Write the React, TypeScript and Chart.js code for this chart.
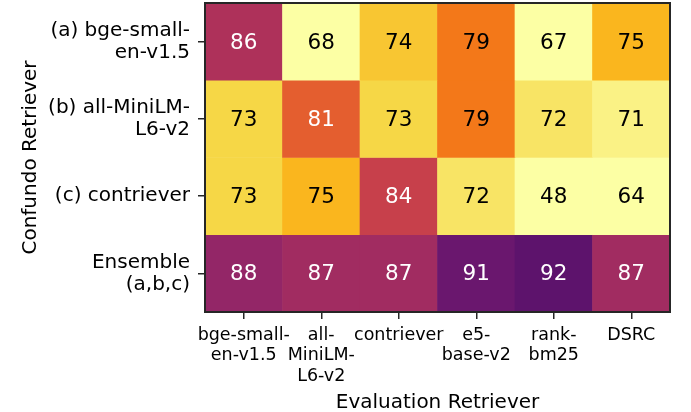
import React, { useEffect, useRef } from "react";
import { Chart, registerables } from "chart.js";

Chart.register(...registerables);

const evalRetrievers: string[][] = [
  ["bge-small-", "en-v1.5"],
  ["all-", "MiniLM-", "L6-v2"],
  ["contriever"],
  ["e5-", "base-v2"],
  ["rank-", "bm25"],
  ["DSRC"],
];
const confundoRetrievers: string[][] = [
  ["(a) bge-small-", "en-v1.5"],
  ["(b) all-MiniLM-", "L6-v2"],
  ["(c) contriever"],
  ["Ensemble", "(a,b,c)"],
];
const rowA = [86, 68, 74, 79, 67, 75];
const rowB = [73, 81, 73, 79, 72, 71];
const rowC = [73, 75, 84, 72, 48, 64];
const rowEnsemble = [88, 87, 87, 91, 92, 87];
const rows = [rowA, rowB, rowC, rowEnsemble];
const xTitle = "Evaluation Retriever";
const yTitle = "Confundo Retriever";
const colorMin = 70;
const colorMax = 100;

const inferno = [
  "#000004", "#160b39", "#420a68", "#6a176e", "#932667", "#bc3754",
  "#dd513a", "#f37819", "#fca50a", "#f6d746", "#fcffa4",
];

function hexToRgb(h: string) {
  return [parseInt(h.slice(1, 3), 16), parseInt(h.slice(3, 5), 16), parseInt(h.slice(5, 7), 16)];
}

function tOf(v: number) {
  return Math.min(1, Math.max(0, (colorMax - v) / (colorMax - colorMin)));
}

function colorOf(v: number) {
  const t = tOf(v);
  const p = t * (inferno.length - 1);
  const i = Math.min(inferno.length - 2, Math.floor(p));
  const f = p - i;
  const a = hexToRgb(inferno[i]);
  const b = hexToRgb(inferno[i + 1]);
  const c = a.map((x, k) => Math.round(x + (b[k] - x) * f));
  return `rgb(${c[0]},${c[1]},${c[2]})`;
}

function textColorOf(v: number) {
  return tOf(v) < 0.67 ? "#ffffff" : "#000000";
}

const FONT = '"DejaVu Sans", sans-serif';

const cellLabels = {
  id: "cellLabels",
  afterDatasetsDraw(chart: any) {
    const ctx = chart.ctx;
    ctx.save();
    ctx.font = `21.5px ${FONT}`;
    ctx.textAlign = "center";
    ctx.textBaseline = "middle";
    chart.data.datasets.forEach((_ds: any, r: number) => {
      const meta = chart.getDatasetMeta(r);
      meta.data.forEach((el: any, c: number) => {
        const v = rows[r][c];
        ctx.fillStyle = textColorOf(v);
        ctx.fillText(String(v), el.x, (el.y + el.base) / 2 + 1.5);
      });
    });
    const a = chart.chartArea;
    ctx.strokeStyle = "#262626";
    ctx.lineWidth = 2;
    ctx.strokeRect(a.left, a.top, a.right - a.left, a.bottom - a.top);
    ctx.restore();
  },
};

export default function App() {
  const ref = useRef<HTMLCanvasElement | null>(null);
  useEffect(() => {
    document.body.style.margin = "0";
    const canvas = ref.current;
    if (!canvas) return;
    const chart = new Chart(canvas, {
      type: "bar",
      data: {
        labels: evalRetrievers as any,
        datasets: rows.map((row, r) => ({
          data: row.map(() => [r, r + 1]) as any,
          backgroundColor: row.map(colorOf),
          borderWidth: 0,
          grouped: false,
          barPercentage: 1,
          categoryPercentage: 1,
        })),
      },
      options: {
        animation: false,
        responsive: false,
        devicePixelRatio: 1,
        layout: { padding: { left: 0, top: 3, right: 21, bottom: 0 } },
        plugins: { legend: { display: false }, tooltip: { enabled: false } },
        scales: {
          x: {
            type: "category",
            offset: true,
            afterFit: (s: any) => {
              s.height = 100;
              s.paddingLeft = 0;
              s.paddingRight = 0;
              s.paddingTop = 0;
              s.paddingBottom = 0;
            },
            grid: {
              offset: false,
              drawOnChartArea: false,
              drawTicks: true,
              tickLength: 7,
              color: "#262626",
              lineWidth: 1.5,
            },
            border: { display: false },
            ticks: {
              color: "#000",
              padding: 6,
              maxRotation: 0,
              autoSkip: false,
              font: { family: FONT, size: 17.5, lineHeight: "20.5px" as any },
            },
            title: {
              display: true,
              text: xTitle,
              color: "#000",
              padding: { top: 0, bottom: 0 },
              font: { family: FONT, size: 20, lineHeight: 0.9 },
            },
          },
          y: {
            type: "linear",
            min: 0,
            max: 4,
            reverse: true,
            afterFit: (s: any) => {
              s.width = 205;
              s.paddingTop = 0;
              s.paddingBottom = 0;
              s.paddingLeft = 0;
              s.paddingRight = 0;
            },
            afterBuildTicks: (s: any) => {
              s.ticks = confundoRetrievers.map((_l, i) => ({ value: i + 0.5 }));
            },
            grid: {
              drawOnChartArea: false,
              drawTicks: true,
              tickLength: 7,
              color: "#262626",
              lineWidth: 1.5,
            },
            border: { display: false },
            ticks: {
              color: "#000",
              padding: 8,
              autoSkip: false,
              callback: (_v: any, i: number) => confundoRetrievers[i] as any,
              font: { family: FONT, size: 20, lineHeight: "22px" as any },
            },
            title: {
              display: true,
              text: yTitle,
              color: "#000",
              padding: { top: 19, bottom: 0 },
              font: { family: FONT, size: 20, lineHeight: 1.2 },
            },
          },
        },
      },
      plugins: [cellLabels],
    });
    return () => chart.destroy();
  }, []);
  return <canvas ref={ref} width={691} height={412} style={{ display: "block" }} />;
}
